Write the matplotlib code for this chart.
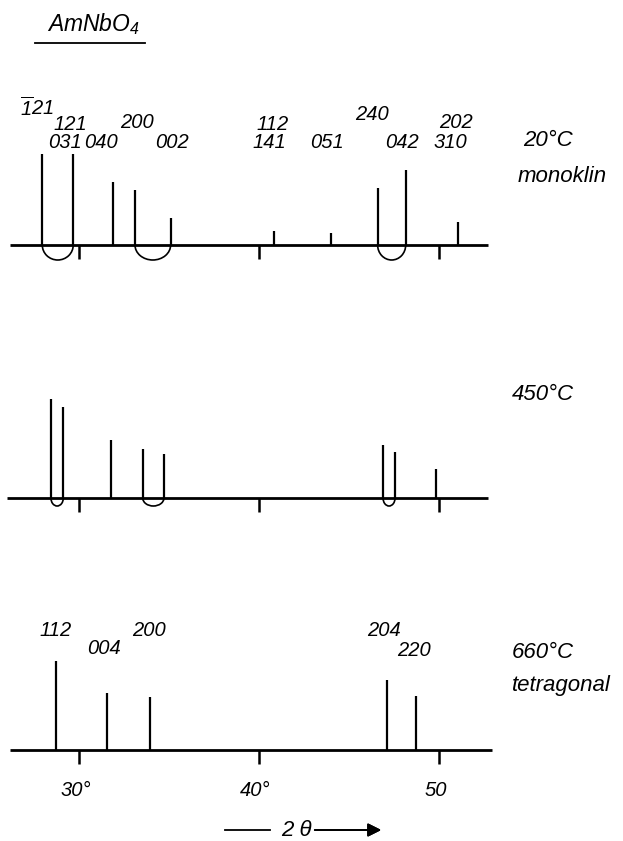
import numpy as np
import matplotlib
matplotlib.use('Agg')
import matplotlib.pyplot as plt
from matplotlib.patches import Arc
from matplotlib.lines import Line2D

plt.rcParams['font.family'] = ['Liberation Sans', 'DejaVu Sans']
plt.rcParams['font.style'] = 'italic'
plt.rcParams['mathtext.fontset'] = 'custom'
plt.rcParams['mathtext.rm'] = 'Liberation Sans:italic'
plt.rcParams['mathtext.it'] = 'Liberation Sans:italic'

# 2theta positions (deg) and stick heights
pos20 = [27.96, 29.68, 31.91, 33.11, 35.09, 40.83, 43.98, 46.59, 48.15, 51.04]
int20 = [91, 91, 63, 55, 27, 14, 12, 57, 75, 23]
pairs20 = [(0, 1), (3, 4), (7, 8)]
hkl20 = [r'$\overline{1}21$', '121', '031', '040', '200', '002', '112', '141',
         '051', '240', '042', '202', '310']
hkl20_x = [27.67, 29.5, 29.22, 31.22, 33.22, 35.17, 40.78, 40.56,
           43.78, 46.28, 47.94, 50.94, 50.61]
hkl20_y = [137, 120, 103, 103, 123, 103, 120, 103, 103, 130, 103, 123, 103]

pos450 = [28.44, 29.13, 31.78, 33.54, 34.72, 46.89, 47.56, 49.83]
int450 = [99, 91, 58, 49, 44, 53, 46, 29]
pairs450 = [(0, 1), (3, 4), (5, 6)]

pos660 = [28.71, 31.54, 33.94, 47.13, 48.71]
int660 = [89, 57, 53, 70, 54]
hkl660 = ['112', '004', '200', '204', '220']
hkl660_x = [28.72, 31.39, 33.89, 46.94, 48.61]
hkl660_y = [119, 101, 119, 119, 99]

ticks = [30, 40, 50]
ticklabels = ['30°', '40°', '50']

W, H = 623, 841
fig = plt.figure(figsize=(W / 100, H / 100), dpi=100)

x0 = 30 - 79 / 18.0
x1 = 30 + (W - 79) / 18.0
fs = 14.5
fs_side = 16


def panel(yb, pos, inten, pairs, depth, xr):
    ax = fig.add_axes([0, 1 - (yb + 60) / H, 1, 230 / H])
    ax.set_xlim(x0, x1)
    ax.set_ylim(-60, 170)
    ax.axis('off')
    ax.plot(xr, [0, 0], color='black', lw=2.0, solid_capstyle='butt')
    ax.vlines(pos, 0, inten, color='black', lw=1.6)
    ax.vlines(ticks, -14, 0, color='black', lw=1.8)
    for i, j in pairs:
        c = (pos[i] + pos[j]) / 2
        w = pos[j] - pos[i]
        ax.add_patch(Arc((c, 0), w, 2 * depth, theta1=180, theta2=360,
                         color='black', lw=1.2))
    return ax


ax1 = panel(245, pos20, int20, pairs20, 15, [26.17, 52.72])
for t, x, y in zip(hkl20, hkl20_x, hkl20_y):
    ax1.text(x, y, t, ha='center', va='center', fontsize=fs)

ax2 = panel(498, pos450, int450, pairs450, 8, [26.0, 52.72])

ax3 = panel(750, pos660, int660, [], 0, [26.17, 52.95])
for t, x, y in zip(hkl660, hkl660_x, hkl660_y):
    ax3.text(x, y, t, ha='center', va='center', fontsize=fs)
for t, x in zip(ticklabels, ticks):
    ax3.text(x - 0.2, -40, t, ha='center', va='center', fontsize=fs)

# side labels
fig.text(523 / W, 1 - 140 / H, '20°C', ha='left', va='center', fontsize=fs_side)
fig.text(518 / W, 1 - 176 / H, 'monoklin', ha='left', va='center', fontsize=fs_side)
fig.text(512 / W, 1 - 394 / H, '450°C', ha='left', va='center', fontsize=fs_side)
fig.text(512 / W, 1 - 652 / H, '660°C', ha='left', va='center', fontsize=fs_side)
fig.text(512 / W, 1 - 685 / H, 'tetragonal', ha='left', va='center', fontsize=fs_side)

# title
fig.text(47 / W, 1 - 24 / H, r'AmNbO$_4$', ha='left', va='center', fontsize=16.5)
fig.add_artist(Line2D([35 / W, 145 / W], [1 - 43 / H, 1 - 43 / H],
                      color='black', lw=1.3))

# axis caption
fig.text(296 / W, 1 - 830 / H, '2 θ', ha='center', va='center', fontsize=fs_side)
fig.add_artist(Line2D([225 / W, 270 / W], [1 - 830 / H, 1 - 830 / H],
                      color='black', lw=1.3))
fig.add_artist(plt.annotate('', xy=(384 / W, 1 - 830 / H), xycoords='figure fraction',
                            xytext=(312 / W, 1 - 830 / H), textcoords='figure fraction',
                            arrowprops=dict(arrowstyle='-|>', color='black', lw=1.3,
                                            mutation_scale=20)))

fig.savefig('out.png', dpi=100)
